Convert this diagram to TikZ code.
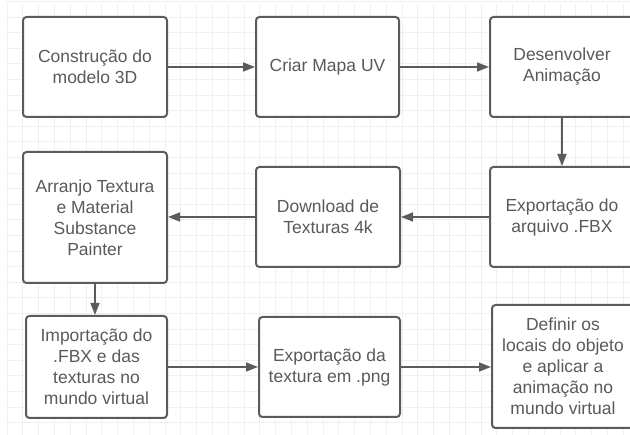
\documentclass[tikz,border=0pt]{standalone}
\usepackage{fontspec}
\setmainfont{Liberation Sans}
\usetikzlibrary{arrows.meta}
\definecolor{boxline}{HTML}{5B5B5B}
\definecolor{txt}{HTML}{5A5A5A}
\definecolor{gridc}{HTML}{F0F0F0}
\tikzset{
  stepbox/.style={draw=boxline, line width=2pt, rounded corners=3.5pt, fill=white,
    text=txt, align=center, inner sep=0pt,
    font=\fontsize{17.5}{21}\selectfont},
  conn/.style={draw=boxline, line width=1.6pt, -{Triangle[length=12pt,width=9pt]}}
}
\begin{document}
\begin{tikzpicture}[x=1pt,y=-1pt]
\useasboundingbox (0,0) rectangle (630,435);
\clip (0,0) rectangle (630,435);
\fill[white] (0,0) rectangle (630,435);
% grid
\foreach \i in {0,...,39} {
  \draw[gridc, line width=0.8pt] ({7+15.8*\i},4) -- ({7+15.8*\i},435);
}
\foreach \j in {0,...,27} {
  \draw[gridc, line width=0.8pt] (5,{1.5+15.6*\j}) -- (630,{1.5+15.6*\j});
}
% boxes
\node[stepbox, minimum width=144pt, minimum height=100pt] (a) at (95,67) {Construção do\\modelo 3D};
\node[stepbox, minimum width=143pt, minimum height=100pt] (b) at (327.5,67) {Criar Mapa UV};
\node[stepbox, minimum width=144pt, minimum height=100pt] (c) at (562,67) {Desenvolver\\Animação};
\node[stepbox, minimum width=144pt, minimum height=131pt] (d) at (95,217.5) {Arranjo Textura\\e Material\\Substance\\Painter};
\node[stepbox, minimum width=144pt, minimum height=100pt] (e) at (328,217) {Download de\\Texturas 4k};
\node[stepbox, minimum width=144pt, minimum height=100pt] (f) at (562,217) {Exportação do\\arquivo .FBX};
\node[stepbox, minimum width=141pt, minimum height=102pt] (g) at (96.5,367) {Importação do\\.FBX e das\\texturas no\\mundo virtual};
\node[stepbox, minimum width=141pt, minimum height=100pt] (h) at (329.5,367) {Exportação da\\textura em .png};
\node[stepbox, minimum width=142pt, minimum height=123pt] (i) at (563,366.5) {Definir os\\locais do objeto\\e aplicar a\\animação no\\mundo virtual};
% connectors
\draw[conn] (a.east) -- (b.west);
\draw[conn] (b.east) -- (c.west);
\draw[conn] (c.south) -- (f.north);
\draw[conn] (f.west) -- (e.east);
\draw[conn] (e.west) -- (d.east |- e.west);
\draw[conn] (d.south) -- (d.south |- g.north);
\draw[conn] (g.east) -- (h.west);
\draw[conn] (h.east) -- (i.west |- h.east);
\end{tikzpicture}
\end{document}
